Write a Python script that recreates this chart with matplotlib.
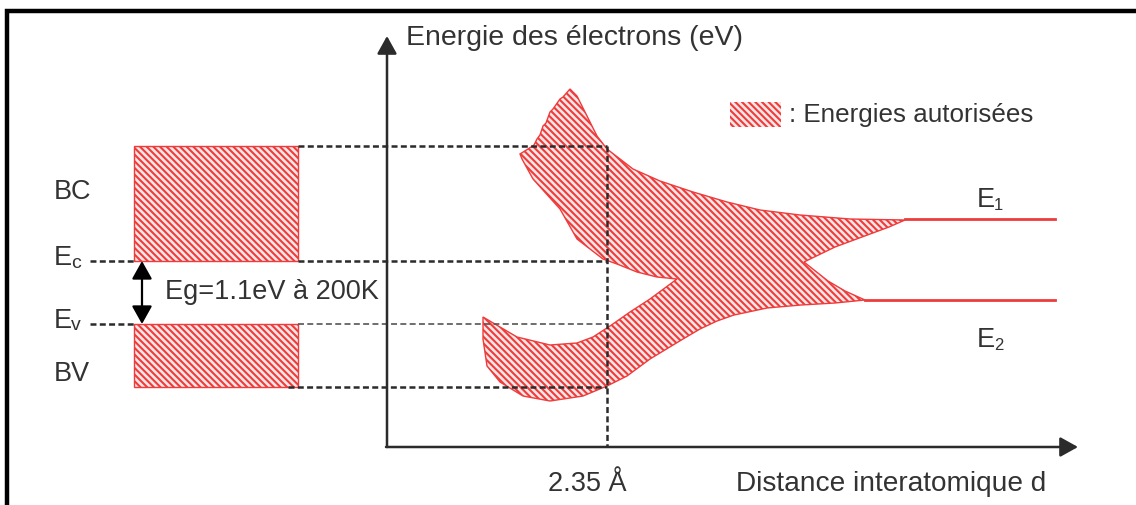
import numpy as np
import matplotlib
matplotlib.use("Agg")
import matplotlib.pyplot as plt
from matplotlib.patches import Polygon, Rectangle

plt.rcParams['font.family'] = ['Liberation Sans', 'DejaVu Sans']
plt.rcParams['hatch.linewidth'] = 1.5
plt.rcParams['lines.scale_dashes'] = False

# --- schematic values (pixel space of the picture, y grows downwards) ---
# band edges of the left "crystal" picture
bc_top, ec_level = 147, 262        # conduction band
ev_level, bv_bottom = 325, 388     # valence band
band_left, band_right = 134, 298
d_eq = 607                         # 2.35 A position
e1_level, e2_level = 220, 301      # isolated-atom levels
e1_start, e2_start, levels_end = 905, 865, 1055

# outline of allowed-energy region vs interatomic distance
outline_x = [570, 577, 587, 597, 607, 620, 633, 660, 693, 727, 760, 800, 850, 905,
             889, 862, 835, 804,
             828, 845, 865,
             835, 801, 767, 734, 717, 700, 683, 650, 627, 607, 583, 550, 523, 500, 487, 483, 483,
             500, 517, 550, 577, 593, 610, 630, 650, 677,
             657, 637, 617, 603, 590, 577, 560, 533, 522, 520,
             528, 534, 537, 540, 543, 546, 550, 553, 560, 563, 570]
outline_y = [90, 97, 117, 137, 150, 160, 170, 182, 193, 203, 211, 216, 220, 221,
             228, 238, 248, 263,
             282, 292, 301,
             304, 306, 309, 316, 322, 330, 340, 360, 377, 387, 397, 402, 397, 383, 367, 340, 318,
             328, 338, 346, 344, 338, 327, 313, 300, 280,
             278, 273, 265, 260, 250, 240, 210, 180, 160, 155,
             150, 146, 140, 136, 127, 124, 113, 110, 100, 98, 90]

red = '#ee3b3b'
ink = '#2b2b2b'
pink = '#fde6e6'
hatch = '\\\\\\\\\\'

fig = plt.figure(figsize=(11.36, 5.06), dpi=100)
ax = fig.add_axes([0, 0, 1, 1])
ax.set_xlim(0, 1136)
ax.set_ylim(506, 0)
ax.axis('off')

# outer frame
ax.plot([7, 7, 1136], [506, 12, 12], color='black', lw=3.2, solid_joinstyle='miter')

# axes with arrows
ax.annotate('', xy=(387, 37), xytext=(387, 448),
            arrowprops=dict(arrowstyle='-|>,head_length=0.45,head_width=0.25', lw=1.8,
                            color=ink, mutation_scale=24, shrinkA=0, shrinkB=0))
ax.annotate('', xy=(1078, 448), xytext=(386, 448),
            arrowprops=dict(arrowstyle='-|>,head_length=0.45,head_width=0.25', lw=1.8,
                            color=ink, mutation_scale=24, shrinkA=0, shrinkB=0))

# hatched bands (left)
for top, bottom in [(bc_top, ec_level), (ev_level, bv_bottom)]:
    ax.add_patch(Rectangle((band_left, top), band_right - band_left, bottom - top,
                           facecolor=pink, edgecolor=red, hatch=hatch, lw=1.0))

# hatched allowed energies (right)
ax.add_patch(Polygon(np.column_stack([outline_x, outline_y]), closed=True,
                     facecolor=pink, edgecolor=red, hatch=hatch, lw=1.0))
ax.plot([e1_start, levels_end], [e1_level, e1_level], color=red, lw=2)
ax.plot([e2_start, levels_end], [e2_level, e2_level], color=red, lw=2)

# legend swatch
ax.add_patch(Rectangle((730, 103), 51, 25, facecolor=pink, edgecolor=red,
                       hatch=hatch, lw=0))
ax.text(789, 115, ': Energies autorisées', fontsize=18.7, color='#333333', va='center')

# dashed guides
dash = dict(color=ink, lw=1.8, linestyle=(0, (4.3, 2.4)))
ax.plot([band_right, d_eq], [bc_top, bc_top], **dash)
ax.plot([d_eq, d_eq], [bc_top, 448], **dash)
ax.plot([90, band_left], [ec_level, ec_level], **dash)
ax.plot([band_right, d_eq], [ec_level, ec_level], **dash)
ax.plot([90, band_left], [ev_level, ev_level], **dash)
ax.plot([band_right, d_eq], [ev_level, ev_level], color='#555555', lw=1.2, linestyle=(0, (4.3, 2.4)))
ax.plot([288, d_eq], [bv_bottom, bv_bottom], **dash)

# gap arrow
ax.annotate('', xy=(142, ec_level), xytext=(142, ev_level),
            arrowprops=dict(arrowstyle='<|-|>,head_length=0.5,head_width=0.28', lw=1.6,
                            color='black', mutation_scale=22, shrinkA=0, shrinkB=0))

# labels
fs = 19.5
txt = '#333333'
ax.text(406, 38, 'Energie des électrons (eV)', fontsize=20.5, color=txt, va='center')
ax.text(736, 484, 'Distance interatomique d', fontsize=20.2, color=txt, va='center')
ax.text(548, 484, '2.35 Å', fontsize=fs, color=txt, va='center')
ax.text(165, 292, 'Eg=1.1eV à 200K', fontsize=fs, color=txt, va='center')
ax.text(54, 192, 'BC', fontsize=fs, color=txt, va='center')
ax.text(54, 374, 'BV', fontsize=fs, color=txt, va='center')
ax.text(54, 258, 'E', fontsize=fs, color=txt, va='center')
ax.text(71, 263, 'c', fontsize=14, color=txt, va='center')
ax.text(54, 321, 'E', fontsize=fs, color=txt, va='center')
ax.text(71, 326, 'v', fontsize=14, color=txt, va='center')
ax.text(977, 200, 'E', fontsize=fs, color=txt, va='center')
ax.text(994, 205, '1', fontsize=12, color=txt, va='center')
ax.text(977, 340, 'E', fontsize=fs, color=txt, va='center')
ax.text(994, 345, '2', fontsize=12, color=txt, va='center')

fig.savefig('out.png', dpi=100)
